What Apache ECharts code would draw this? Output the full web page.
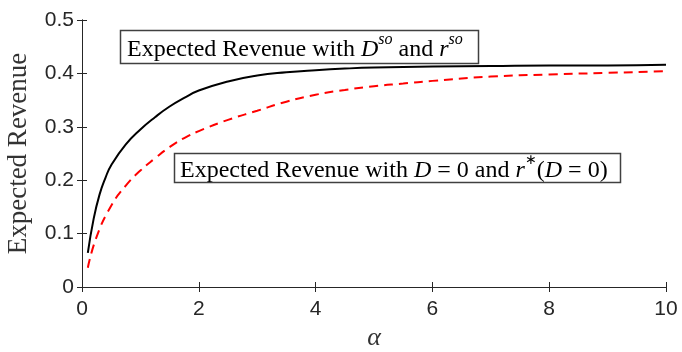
<!DOCTYPE html>
<html>
<head>
<meta charset="utf-8">
<script src="https://cdn.jsdelivr.net/npm/echarts@6/dist/echarts.min.js"></script>
<style>
  html, body { margin: 0; padding: 0; background: #fff; }
  #chart { width: 682px; height: 352px; }
</style>
</head>
<body>
<div id="chart"></div>
<script>
// Expected revenue as a function of alpha
const alphaSo = [0.1, 0.2, 0.3, 0.4, 0.5, 0.75, 1.0, 1.25, 1.5, 1.75, 2.0, 2.5, 3.0, 3.5, 4.0, 4.5, 5.0, 6.0, 7.0, 8.0, 9.0, 10.0];
const revenueSo = [0.064, 0.128, 0.173, 0.204, 0.228, 0.267, 0.295, 0.318, 0.338, 0.354, 0.368, 0.385, 0.396, 0.402, 0.406, 0.409, 0.411, 0.413, 0.414, 0.415, 0.415, 0.416];

const alphaD0 = [0.1, 0.25, 0.5, 0.75, 1.0, 1.25, 1.5, 1.75, 2.0, 2.5, 3.0, 3.5, 4.0, 4.5, 5.0, 5.5, 6.0, 7.0, 8.0, 9.0, 10.0];
const revenueD0 = [0.036, 0.094, 0.152, 0.190, 0.218, 0.241, 0.262, 0.279, 0.292, 0.313, 0.330, 0.347, 0.360, 0.369, 0.376, 0.381, 0.386, 0.394, 0.398, 0.401, 0.404];

const xTicks = { min: 0, max: 10, interval: 2 };
const yTicks = { min: 0, max: 0.5, interval: 0.1 };

const axisColor = '#262626';
const serif = '"Liberation Serif", "Times New Roman", serif';
const sans = '"Liberation Sans", Arial, sans-serif';

function pairs(xs, ys) { return xs.map((x, i) => [x, ys[i]]); }

const chart = echarts.init(document.getElementById('chart'), null, { renderer: 'canvas' });

const frameAxis = {
  axisLine: { show: true, lineStyle: { color: axisColor, width: 1 } },
  axisTick: { show: true, inside: true, length: 5, lineStyle: { color: axisColor } },
  splitLine: { show: false }
};

const richText = {
  n: { fontFamily: serif, fontSize: 24, color: '#000', lineHeight: 30, verticalAlign: 'bottom' },
  i: { fontFamily: serif, fontSize: 24, fontStyle: 'italic', color: '#000', lineHeight: 30, verticalAlign: 'bottom' },
  s: { fontFamily: serif, fontSize: 16, fontStyle: 'italic', color: '#000', lineHeight: 25, verticalAlign: 'top' },
  a: { fontFamily: serif, fontSize: 14, color: '#000', lineHeight: 26, verticalAlign: 'top' }
};

chart.setOption({
  animation: false,
  backgroundColor: '#fff',
  grid: { left: 82, right: 16, top: 20, bottom: 65, outerBoundsMode: 'none', containLabel: false },
  xAxis: [
    Object.assign({
      type: 'value', min: xTicks.min, max: xTicks.max, interval: xTicks.interval,
      position: 'bottom',
      axisLabel: { fontFamily: sans, fontSize: 21, color: axisColor, margin: 12 },
      name: 'α', nameLocation: 'middle', nameGap: 38,
      nameTextStyle: { fontFamily: serif, fontSize: 26, fontStyle: 'italic', color: '#333' }
    }, frameAxis),
    Object.assign({
      type: 'value', min: xTicks.min, max: xTicks.max, interval: xTicks.interval,
      position: 'top', axisLabel: { show: false }
    }, frameAxis)
  ],
  yAxis: [
    Object.assign({
      type: 'value', min: yTicks.min, max: yTicks.max, interval: yTicks.interval,
      position: 'left',
      axisLabel: { fontFamily: sans, fontSize: 21, color: axisColor, margin: 8 },
      name: 'Expected Revenue', nameLocation: 'middle', nameGap: 50,
      nameTextStyle: { fontFamily: serif, fontSize: 27, color: '#333' }
    }, frameAxis),
    Object.assign({
      type: 'value', min: yTicks.min, max: yTicks.max, interval: yTicks.interval,
      position: 'right', axisLabel: { show: false }
    }, frameAxis)
  ],
  series: [
    {
      type: 'line', xAxisIndex: 0, yAxisIndex: 0,
      data: pairs(alphaSo, revenueSo),
      smooth: 0.5, showSymbol: false,
      lineStyle: { color: '#000', width: 2 }
    },
    {
      type: 'line', xAxisIndex: 0, yAxisIndex: 0,
      data: pairs(alphaD0, revenueD0),
      smooth: 0.5, showSymbol: false,
      lineStyle: { color: '#ff0000', width: 2, type: [9, 6] }
    }
  ],
  graphic: [
    {
      type: 'rect', shape: { x: 120.5, y: 30.5, width: 358, height: 33 },
      style: { fill: '#fff', stroke: '#404040', lineWidth: 1.5 }, z: 10
    },
    {
      type: 'text', x: 127, y: 47, z: 11,
      style: {
        text: '{n|Expected Revenue with }{i|D}{s|so}{n| and }{i|r}{s|so}',
        rich: richText, verticalAlign: 'middle', align: 'left'
      }
    },
    {
      type: 'rect', shape: { x: 174.5, y: 153.5, width: 446, height: 29 },
      style: { fill: '#fff', stroke: '#404040', lineWidth: 1.5 }, z: 10
    },
    {
      type: 'text', x: 180, y: 168, z: 11,
      style: {
        text: '{n|Expected Revenue with }{i|D}{n| = 0 and }{i|r}{a|∗}{n|(}{i|D}{n| = 0)}',
        rich: richText, verticalAlign: 'middle', align: 'left'
      }
    }
  ]
});
</script>
</body>
</html>
